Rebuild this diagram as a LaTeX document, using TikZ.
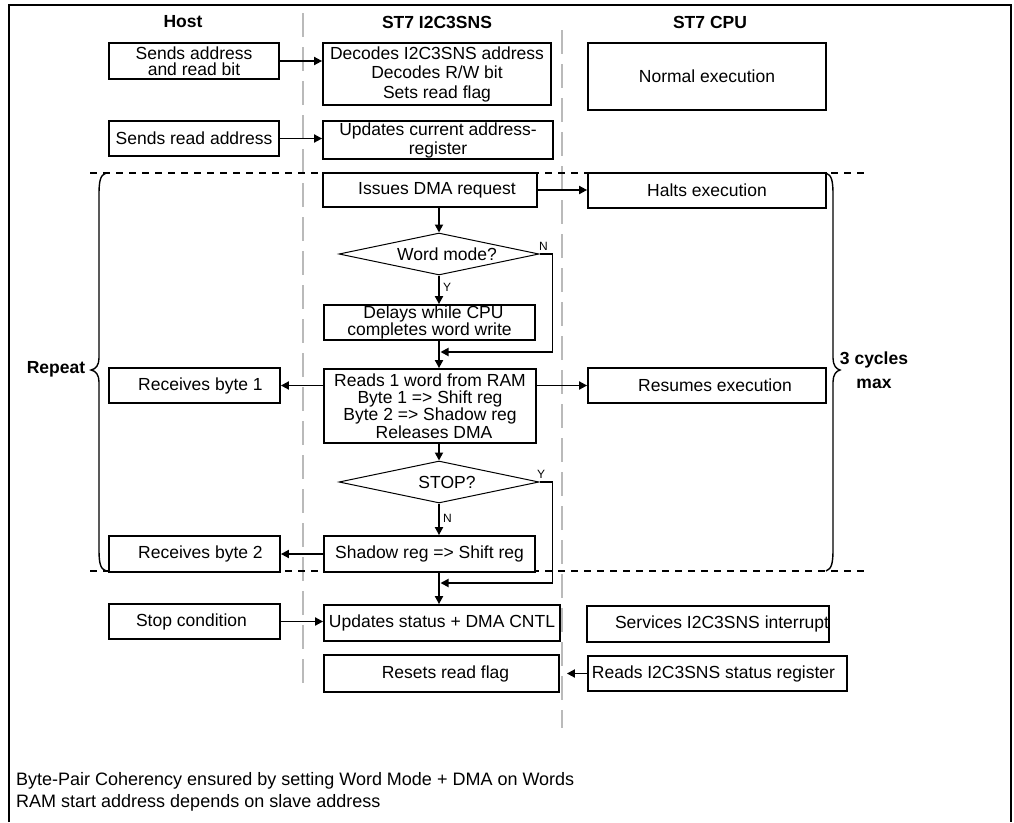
\documentclass[tikz,border=0pt]{standalone}
\usepackage{fontspec}
\setmainfont{Liberation Sans}
\usetikzlibrary{arrows.meta,shapes.geometric,calc}
\newcommand\bxfont{\fontsize{17.5}{18}\selectfont}
\begin{document}
\begin{tikzpicture}[x=1pt,y=-1pt,
  box/.style={draw, line width=1.8pt, fill=white, inner sep=0pt, align=center, font=\bxfont},
  dec/.style={draw, diamond, line width=1pt, fill=white, inner sep=0pt, shape aspect=4.76,
              minimum width=200pt, minimum height=42pt, font=\bxfont},
  arr/.style={line width=1.8pt, -{Triangle[length=8pt,width=8pt]}},
  lane/.style={draw=black!27, line width=1.6pt, dash pattern=on 24pt off 10pt},
  sep/.style={line width=1.6pt, dash pattern=on 7pt off 6pt},
  hdr/.style={font=\bfseries\fontsize{17.5}{18}\selectfont},
  small/.style={font=\fontsize{12}{12}\selectfont, inner sep=0pt},
  brace/.style={line width=1.4pt}
]
\useasboundingbox (0,0) rectangle (1014,822);
% frame
\draw[line width=2pt] (9,822) -- (9,5) -- (1011,5) -- (1011,822);

% swim lane separators
\coordinate (l1a) at (303,13); \coordinate (l1b) at (303,690);
\coordinate (l2a) at (562,30); \coordinate (l2b) at (562,728);
\draw[lane] (l1a) -- (l1b);
\draw[lane] (l2a) -- (l2b);

% repeat region separators
\coordinate (t1) at (90,173); \coordinate (t2) at (865,173);
\coordinate (b1) at (90,571); \coordinate (b2) at (865,571);
\draw[sep] (t1) -- (t2);
\draw[sep] (b1) -- (b2);

% headers
\node[hdr] (hh) at (183,22) {Host};
\node[hdr] (hs) at (437,22) {ST7 I2C3SNS};
\node[hdr] (hc) at (710,22) {ST7 CPU};

% Host column
\node[box, minimum width=170pt, minimum height=36pt, font={\fontsize{17.5}{16.5}\selectfont}] (h1) at (194,61) {Sends address\\and read bit};
\node[box, minimum width=170pt, minimum height=35pt] (h2) at (194,138.5) {Sends read address};
\node[box, minimum width=171pt, minimum height=35pt] (hb1) at (194.5,385.5) {\hspace*{12pt}Receives byte 1};
\node[box, minimum width=171pt, minimum height=36pt] (hb2) at (194.5,554) {\hspace*{12pt}Receives byte 2};
\node[box, minimum width=171pt, minimum height=35pt] (hst) at (194.5,621.5) {Stop condition\hspace*{6pt}};

% I2C3SNS column
\node[box, minimum width=228pt, minimum height=62pt, font={\fontsize{17.5}{19.5}\selectfont}] (s1) at (437,74) {Decodes I2C3SNS address\\Decodes R/W bit\\Sets read flag};
\node[box, minimum width=230pt, minimum height=38pt, font={\fontsize{17.5}{19}\selectfont}] (s2) at (438,140) {Updates current address-\\register};
\node[box, minimum width=214pt, minimum height=34pt] (s3) at (430,190) {\hspace*{14pt}Issues DMA request};
\node[dec] (d1) at (439,254) {\hspace*{16pt}Word mode?};
\node[box, minimum width=211pt, minimum height=35pt, font={\fontsize{17.5}{16}\selectfont}] (s4) at (429.5,322.5) {\hspace*{8pt}Delays while CPU\\completes word write};
\node[box, minimum width=212pt, minimum height=74pt, font={\fontsize{17.5}{17.3}\selectfont}] (s5) at (430,406) {Reads 1 word from RAM\\Byte 1 => Shift reg\\Byte 2 => Shadow reg\\\hspace*{8pt}Releases DMA};
\node[dec] (d2) at (439,482) {\hspace*{16pt}STOP?};
\node[box, minimum width=211pt, minimum height=36pt] (s6) at (429.5,554) {Shadow reg => Shift reg};
\node[box, minimum width=236pt, minimum height=36pt] (s7) at (442,623) {Updates status + DMA CNTL};
\node[box, minimum width=235pt, minimum height=37pt] (s8) at (441.5,673.5) {\hspace*{8pt}Resets read flag};

% CPU column
\node[box, minimum width=238pt, minimum height=67pt] (c1) at (707,76.5) {Normal execution};
\node[box, minimum width=238pt, minimum height=35pt] (c2) at (707,190.5) {Halts execution};
\node[box, minimum width=238pt, minimum height=35pt] (c3) at (707,385.5) {\hspace*{16pt}Resumes execution};
\node[box, minimum width=240pt, minimum height=36pt] (c4) at (708,624) {\hspace*{28pt}Services I2C3SNS interrupt};
\node[box, minimum width=259pt, minimum height=35pt] (c5) at (717.5,673.5) {Reads I2C3SNS status register\hspace*{8pt}};

% connectors
\draw[arr] (h1.east) -- (h1.east -| s1.west);
\draw[arr] (h2.east) -- (h2.east -| s2.west);
\draw[arr] (s3.east) -- (s3.east -| c2.west);
\draw[arr] (s3.south -| d1.north) -- (d1.north);
\draw[arr] (d1.south) -- (d1.south |- s4.north);
\node[small, anchor=west] (ly1) at (443,287) {Y};
\draw[arr] (d1.south |- s4.south) -- (d1.south |- s5.north);
\coordinate (j1) at ($(d1.south |- 0,352)+(1.5,0)$);
\draw[arr] (d1.east) -- ++(13,0) |- (j1);
\node[small, anchor=south west] (ln1) at (539,251) {N};
\draw[arr] (s5.west |- hb1.east) -- (hb1.east);
\draw[arr] (s5.east |- c3.west) -- (c3.west);
\draw[arr] (s5.south -| d2.north) -- (d2.north);
\draw[arr] (d2.south) -- (d2.south |- s6.north);
\node[small, anchor=west] (ln2) at (443,518) {N};
\draw[arr] (s6.west) -- (s6.west -| hb2.east);
\draw[arr] (d2.south |- s6.south) -- (d2.south |- s7.north);
\coordinate (j2) at ($(d2.south |- 0,583)+(1.5,0)$);
\draw[arr] (d2.east) -- ++(13,0) |- (j2);
\node[small, anchor=south west] (ly2) at (537,479) {Y};
\draw[arr] (hst.east) -- (hst.east -| s7.west);
\draw[arr, shorten >=7pt] (c5.west) -- (c5.west -| s8.east);

% braces
\draw[brace] (106,173) .. controls (100,175) and (99,182) .. (99,195) -- (99,358)
  .. controls (99,365) and (96,369) .. (91,370) .. controls (96,371) and (99,375) .. (99,382)
  -- (99,549) .. controls (99,562) and (100,569) .. (106,571);
\draw[brace] (826,173) .. controls (832,175) and (833,182) .. (833,195) -- (833,358)
  .. controls (833,365) and (836,369) .. (840,370) .. controls (836,371) and (833,375) .. (833,382)
  -- (833,549) .. controls (833,562) and (832,569) .. (826,571);
\node[hdr] (rep) at (56,369) {Repeat};
\node[hdr, align=center, font=\bfseries\fontsize{17.5}{24}\selectfont] (cyc) at (874,370) {3 cycles\\max};

% footer
\node[anchor=west, inner sep=0pt, align=left, font={\fontsize{18}{22}\selectfont}] (foot) at (16,792)
  {Byte-Pair Coherency ensured by setting Word Mode + DMA on Words\\RAM start address depends on slave address};
\end{tikzpicture}
\end{document}
